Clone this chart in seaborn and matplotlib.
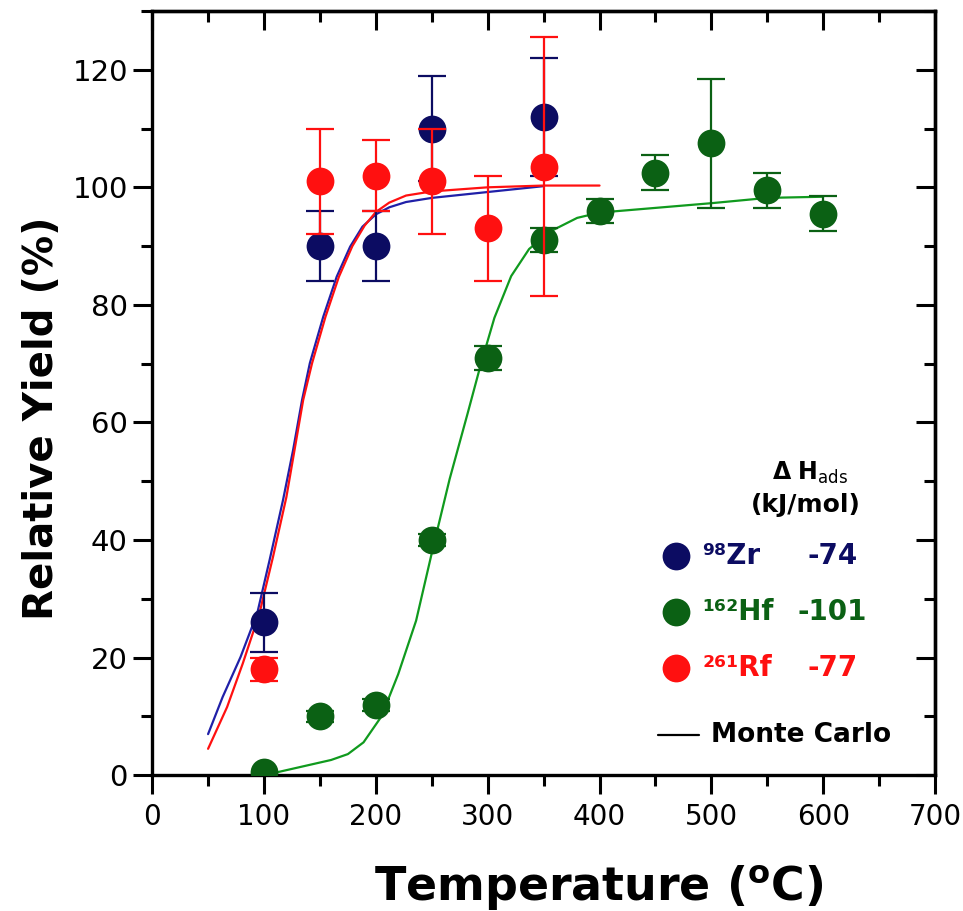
import seaborn as sns
import matplotlib.pyplot as plt
import pandas as pd

# measured points (temperature in C, relative yield in %, +/- error)
zr_t = [100, 150, 200, 250, 350]
zr_y = [26, 90, 90, 110, 112]
zr_err = [5, 6, 6, 9, 10]

hf_t = [100, 150, 200, 250, 300, 350, 400, 450, 500, 550, 600]
hf_y = [0.5, 10, 12, 40, 71, 91, 96, 102.5, 107.5, 99.5, 95.5]
hf_err = [float("nan"), 1, 1, 1, 2, 2, 2, 3, 11, 3, 3]

rf_t = [100, 150, 200, 250, 300, 350]
rf_y = [18, 101, 102, 101, 93, 103.5]
rf_err = [2, 9, 6, 9, 9, 22]

# Monte Carlo curves
zr_fit_t = [50, 63, 79, 94, 105, 117, 126, 134, 141, 153, 165, 177, 188, 200, 212, 227, 250, 300, 350]
zr_fit_y = [7.0, 13.3, 20.1, 27.6, 36.6, 46.8, 55.3, 63.8, 70.1, 78, 84.8, 89.9, 93.3, 95.4, 96.6, 97.5, 98.2, 99.2, 100.2]

rf_fit_t = [50, 67, 81, 96, 108, 120, 135, 143, 155, 167, 179, 190, 200, 212, 227, 250, 300, 350, 400]
rf_fit_y = [4.5, 11.6, 19, 27.6, 37.1, 47.3, 63.8, 70.1, 78, 84.8, 90, 93.5, 95.8, 97.4, 98.6, 99.3, 100, 100.3, 100.3]

hf_fit_t = [100, 130, 160, 175, 189, 205, 220, 236, 251, 266, 282, 294, 306, 321, 337, 355, 380, 400, 450, 500, 550, 600]
hf_fit_y = [0, 1.3, 2.6, 3.6, 5.6, 10, 17.2, 26.3, 38.6, 50.4, 61.5, 70, 77.8, 84.9, 89.5, 92.4, 94.8, 95.7, 96.5, 97.3, 98.2, 98.4]

navy = "#0c0c62"
green = "#0b6114"
red = "#ff1010"
navy_line = "#2020a8"
green_line = "#109a1e"

sns.set_style("ticks")
plt.rcParams["font.family"] = ["DejaVu Sans"]
plt.rcParams.update({"text.color": "black", "axes.labelcolor": "black",
                     "xtick.color": "black", "ytick.color": "black",
                     "axes.edgecolor": "black"})

fig = plt.figure(figsize=(9.63, 9.11), dpi=100)
ax = fig.add_axes([0.158, 0.149, 0.813, 0.839])

sns.lineplot(x=zr_fit_t, y=zr_fit_y, color=navy_line, lw=1.6, sort=False, ax=ax, zorder=2)
sns.lineplot(x=rf_fit_t, y=rf_fit_y, color=red, lw=1.6, sort=False, ax=ax, zorder=2)
sns.lineplot(x=hf_fit_t, y=hf_fit_y, color=green_line, lw=1.6, sort=False, ax=ax, zorder=2)

groups = [(hf_t, hf_y, hf_err, green), (zr_t, zr_y, zr_err, navy), (rf_t, rf_y, rf_err, red)]
for i, (t, y, e, c) in enumerate(groups):
    ax.errorbar(t, y, yerr=e, fmt="none", ecolor=c, elinewidth=1.6, capsize=10,
                capthick=1.6, zorder=3 + 2 * i)
    df = pd.DataFrame({"t": t, "y": y})
    sns.scatterplot(data=df, x="t", y="y", color=c, s=400, linewidth=0, ax=ax,
                    zorder=4 + 2 * i)

ax.set_xlim(0, 700)
ax.set_ylim(0, 130)
ax.set_xticks(range(0, 701, 100))
ax.set_xticks(range(50, 700, 100), minor=True)
ax.set_yticks(range(0, 121, 20))
ax.set_yticks(range(10, 131, 20), minor=True)
ax.tick_params(which="major", direction="out", length=14, width=2.2, labelsize=21)
ax.tick_params(which="minor", direction="out", length=8, width=2.2)
ax.tick_params(axis="x", pad=6, labelsize=20)

top = ax.secondary_xaxis("top")
top.set_xticks(range(0, 701, 100))
top.set_xticks(range(50, 700, 100), minor=True)
top.tick_params(which="major", direction="in", length=14, width=2.2, labeltop=False)
top.tick_params(which="minor", direction="in", length=8, width=2.2)
right = ax.secondary_yaxis("right")
right.set_yticks(range(0, 121, 20))
right.set_yticks(range(10, 131, 20), minor=True)
right.tick_params(which="major", direction="in", length=14, width=2.2, labelright=False)
right.tick_params(which="minor", direction="in", length=8, width=2.2)
for sec in (top, right):
    for sp in sec.spines.values():
        sp.set_linewidth(2.4)
for sp in ax.spines.values():
    sp.set_linewidth(2.4)
    sp.set_visible(True)

ax.set_xlabel(r"Temperature ($^{\mathbf{o}}$C)", fontsize=33, fontweight="bold")
ax.set_ylabel("Relative Yield (%)", fontsize=29, fontweight="bold")
ax.xaxis.set_label_coords(0.57, -0.115)
ax.yaxis.set_label_coords(-0.115, 0.467)

# legend block drawn as text
ax.text(588, 51.4, r"$\mathbf{\Delta}$ $\mathbf{H}_{\mathrm{ads}}$", fontsize=17,
        ha="center", va="center")
ax.text(584, 46, "(kJ/mol)", fontsize=18, fontweight="bold", ha="center", va="center")
leg_rows = [("⁹⁸Zr", "-74", 37.3, navy), ("¹⁶²Hf", "-101", 27.7, green), ("²⁶¹Rf", "-77", 18.2, red)]
for name, dh, yy, c in leg_rows:
    ax.scatter([468], [yy], s=400, color=c, linewidths=0, zorder=10)
    ax.text(492, yy, name, fontsize=20, fontweight="bold", color=c, ha="left", va="center")
    ax.text(608, yy, dh, fontsize=20, fontweight="bold", color=c, ha="center", va="center")
ax.plot([452, 489], [6.8, 6.8], color="black", lw=1.6)
ax.text(500, 6.8, "Monte Carlo", fontsize=19, fontweight="bold", ha="left", va="center")

fig.savefig("out.png", dpi=100)
